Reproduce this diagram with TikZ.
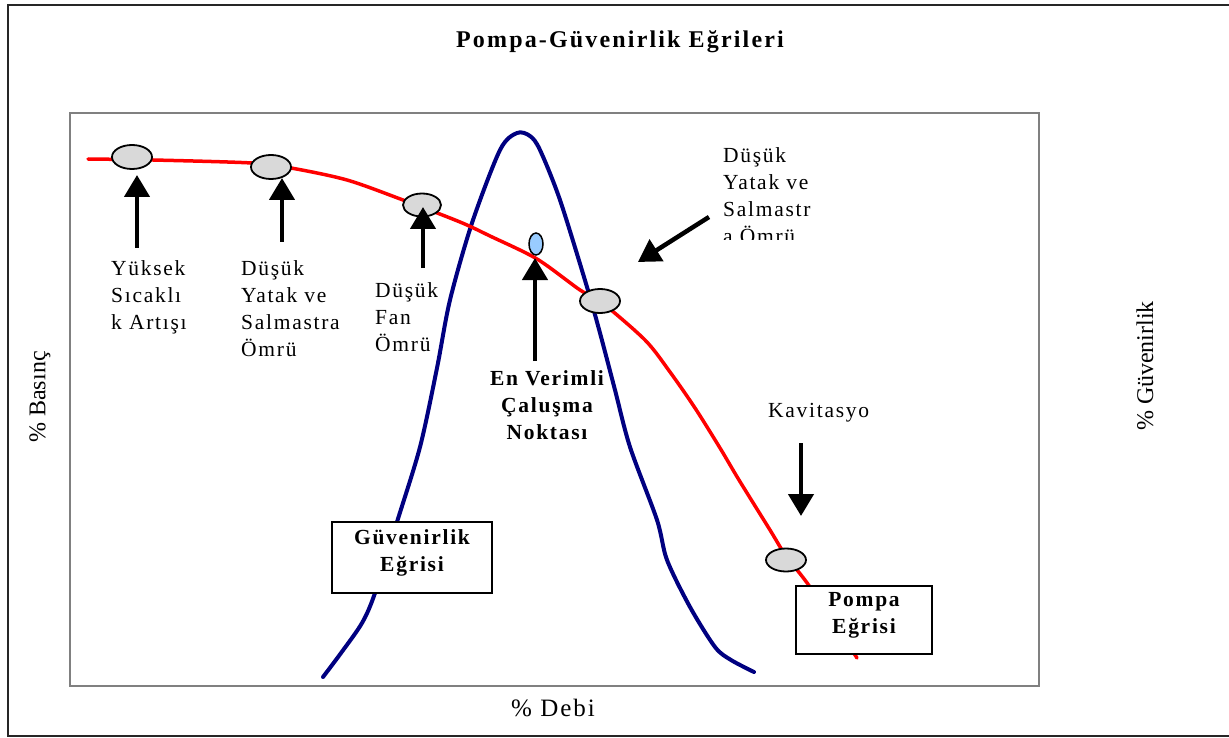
\documentclass[tikz,border=0pt]{standalone}
\usepackage{fontspec}
\setmainfont{Liberation Serif}
\newfontfamily\lsf[LetterSpace=8]{Liberation Serif}
\newfontfamily\ttlf[LetterSpace=9]{Liberation Serif}
\usetikzlibrary{arrows.meta,shapes.geometric}
\definecolor{navyc}{RGB}{0,0,128}
\definecolor{ellg}{RGB}{217,217,217}
\definecolor{ellb}{RGB}{153,204,255}
\definecolor{frameg}{RGB}{128,128,128}
\tikzset{
  lbl/.style={inner sep=0pt, align=left, anchor=north west, font=\lsf\fontsize{21.5}{27}\selectfont},
  blbl/.style={inner sep=0pt, align=center, anchor=north, font=\lsf\bfseries\fontsize{21.5}{27}\selectfont},
  axlbl/.style={inner sep=0pt, font=\fontsize{24}{28}\selectfont, rotate=90},
  ell/.style={ellipse, draw, line width=1.8pt, fill=ellg, inner sep=0pt, minimum width=40pt, minimum height=24pt},
  bigarr/.style={line width=4.5pt, -{Triangle[width=25pt,length=22pt]}},
  lblbox/.style={draw, line width=1.8pt, fill=white, inner sep=0pt},
  redcurve/.style={draw=red, line width=3.5pt, line cap=round},
  bluecurve/.style={draw=navyc, line width=4pt, line cap=round}
}
\begin{document}
\begin{tikzpicture}[x=1pt,y=-1pt]
\useasboundingbox (0,0) rectangle (1229,738);
% outer frame (no right side)
\draw[line width=1.5pt, black!85] (1229,5) -- (8,5) -- (8,736) -- (1229,736);
% inner plot box
\draw[line width=2pt, frameg] (70,113) rectangle (1039,686);
% title
\node[inner sep=0pt, anchor=base, font=\ttlf\bfseries\fontsize{24}{28}\selectfont] (title) at (620,48) {Pompa-Güvenirlik Eğrileri};
% curves
\draw[bluecurve] plot[smooth, tension=0.5] coordinates {(323,677) (341,653) (362,623) (375,593) (397,522) (420,447) (437,368) (450,300) (472,223) (500,150) (517,133) (530,136) (540,150) (560,200) (587,287) (600,333) (615,390) (630,447) (657,520) (667,560) (690,607) (715,647) (731,660) (754,672)};
\draw[redcurve] plot[smooth, tension=0.5] coordinates {(88,159) (153,160) (252,163) (291,168) (347,180) (403,200) (460,222) (490,236) (537,259) (580,290) (600,301) (645,340) (670,372) (695,408) (720,448) (739,480) (770,530) (786,556) (810,587) (857,658)};
% ellipses
\node[ell] (e1) at (132,157) {};
\node[ell] (e2) at (271,167) {};
\node[ell, minimum width=38pt, minimum height=23pt] (e3) at (422,205) {};
\node[ell] (e4) at (600,301) {};
\node[ellipse, draw, line width=1.5pt, fill=ellb, inner sep=0pt, minimum width=14pt, minimum height=22pt] (bep) at (536,244) {};
\node[ell, minimum height=23pt] (e5) at (786,560) {};
% arrow coordinates
\coordinate (a1s) at (137,248); \coordinate (a1e) at (137,175);
\coordinate (a2s) at (282,242); \coordinate (a2e) at (282,178);
\coordinate (a3s) at (423,268); \coordinate (a3e) at (423,207);
\coordinate (a4s) at (535,361); \coordinate (a4e) at (535,258);
\coordinate (a5s) at (709,217); \coordinate (a5e) at (638,262);
\coordinate (a6s) at (801,443); \coordinate (a6e) at (801,516);
\draw[bigarr] (a1s) -- (a1e);
\draw[bigarr] (a2s) -- (a2e);
\draw[bigarr] (a3s) -- (a3e);
\draw[bigarr] (a4s) -- (a4e);
\draw[bigarr] (a5s) -- (a5e);
\draw[bigarr] (a6s) -- (a6e);
% labelled boxes
\node[lblbox, minimum width=160pt, minimum height=71pt] (gbox) at (412,557.5) {};
\node[blbl] (gtxt) at (412,529) {Güvenirlik\\Eğrisi};
\node[lblbox, minimum width=136pt, minimum height=68pt] (pbox) at (864,620) {};
\node[blbl] (ptxt) at (864,592) {Pompa\\Eğrisi};
% text labels
\node[lbl] (t1) at (111,260) {Yüksek\\Sıcaklı\\k Artışı};
\node[lbl] (t2) at (241,260) {Düşük\\Yatak ve\\Salmastra\\Ömrü};
\node[lbl] (t3) at (375,282) {Düşük\\Fan\\Ömrü};
\node[blbl] (t4) at (547,370) {En Verimli\\Çaluşma\\Noktası};
\begin{scope}
\clip (700,130) rectangle (900,240);
\node[lbl] (t5) at (723,147) {Düşük\\Yatak ve\\Salmastr\\a Ömrü};
\end{scope}
\node[lbl] (t6) at (768,403) {Kavitasyo};
\node[lbl, anchor=base west, font=\lsf\fontsize{25}{28}\selectfont] (xlab) at (511,716) {\% Debi};
\node[axlbl] (ylab) at (40,397) {\% Basınç};
\node[axlbl] (y2lab) at (1145,366) {\% Güvenirlik};
\end{tikzpicture}
\end{document}
